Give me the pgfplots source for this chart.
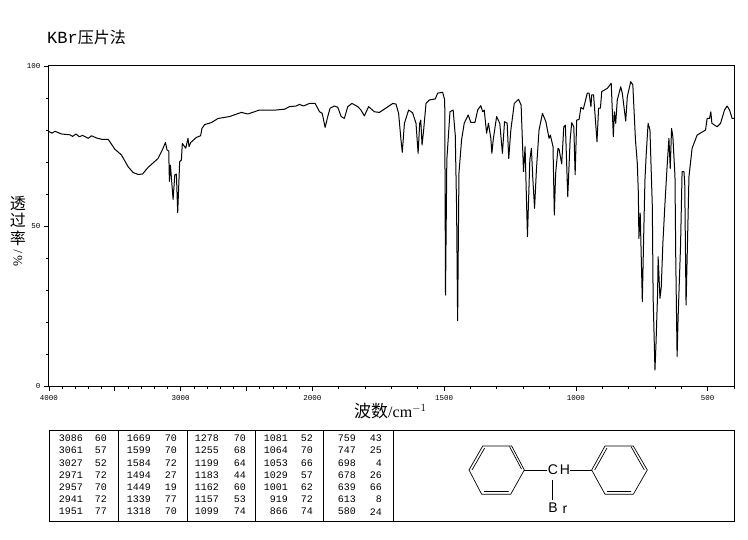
\documentclass[border=0pt]{standalone}
\usepackage{pgfplots}
\pgfplotsset{compat=1.18}
\usepackage{fontspec}
\setmainfont{Liberation Serif}
\setmonofont{Liberation Mono}
\setsansfont{Liberation Sans}
\newfontfamily\cjk{Noto Sans CJK SC}

% peak list: wavenumber right edge, value right edge, y, wavenumber, value
\newcommand{\pk}[5]{%
  \node[anchor=east,inner sep=0pt,font=\ttfamily\fontsize{10}{11}\selectfont] at (#1,#3) {#4};
  \node[anchor=east,inner sep=0pt,font=\ttfamily\fontsize{10}{11}\selectfont] at (#2,#3) {#5};}

\begin{document}
\begin{tikzpicture}
\useasboundingbox (-49pt,-153pt) rectangle (699pt,386pt);
\begin{axis}[
  at={(0pt,0pt)},
  anchor=south west,
  scale only axis,
  width=685pt,
  height=320pt,
  % the wavenumber scale is twice as wide below 2000
  x coord trafo/.code={\pgfmathparse{#1>2000 ? 4000-#1 : 2000+2*(2000-#1)}},
  xmin=4000, xmax=400,
  ymin=0, ymax=100,
  axis line style={line width=1pt},
  tick align=outside,
  tick pos=lower,
  tick style={black,line width=0.8pt},
  major tick length=5pt,
  minor tick length=3pt,
  xtick={4000,3500,3000,2500,2000,1500,1000,500},
  xticklabels={4000,,3000,,2000,1500,1000,500},
  minor xtick={3900,3800,3700,3600,3400,3300,3200,3100,2900,2800,2700,2600,2400,2300,2200,2100,1900,1800,1700,1600,1400,1300,1200,1100,900,800,700,600,400},
  ytick={0,50,100},
  yticklabels={0,50,100},
  minor ytick={10,20,30,40,60,70,80,90},
  ticklabel style={font=\ttfamily\fontsize{7.5}{8}\selectfont,inner sep=1pt},
  xticklabel style={yshift=-3pt},
  yticklabel style={xshift=-2.5pt},
]
\addplot[black,line width=1pt,line join=round] coordinates {
(4000,79.5)(3977,79.0)(3955,79.6)(3904,78.75)(3841,78.5)(3821,78.0)(3795,78.75)(3770,77.9)
(3745,78.3)(3702,77.4)(3677,78.2)(3639,77.5)(3601,77.1)(3551,77.1)(3500,74.0)(3450,72.2)
(3399,68.5)(3361,66.7)(3323,66.1)(3290,66.25)(3248,68.3)(3172,71.1)(3134,74.3)(3116,76.1)
(3104,73.75)(3091,73.4)(3086,63.9)(3078,69)(3058,58.3)(3045,66)(3033,66.25)(3023,54.2)
(3008,70.1)(2995,70.6)(2988,75.8)(2962,74.3)(2945,77.4)(2937,74.8)(2924,76.1)(2881,77.7)
(2849,78.2)(2839,80.5)(2818,81.7)(2768,82.3)(2717,83.6)(2629,84.2)(2540,85.5)(2490,85)
(2402,86.25)(2275,86.25)(2212,86.5)(2174,87.3)(2124,87.5)(2099,88)(2068,87.5)(2023,88.3)
(1990,88.3)(1973,85.7)(1963,85.2)(1952,80.8)(1942,84.2)(1933,86.8)(1917,87.5)(1904,87.1)
(1891,84.2)(1879,83.6)(1866,87.3)(1850,88.3)(1828,87.3)(1816,86.25)(1803,84.4)(1787,87.3)
(1765,85.7)(1746,85.5)(1695,88.3)(1683,88.1)(1673,85.2)(1664,76.9)(1659,73)(1651,82.1)
(1635,86.25)(1620,85.4)(1607,82.1)(1599,72.7)(1593,82.1)(1589,83.1)(1584,75.3)(1578,80)
(1569,88.3)(1556,89.4)(1534,89.7)(1525,91.5)(1506,91.8)(1498,89.4)(1495,28.4)(1490,70.6)
(1485,76.9)(1478,85.7)(1466,86.25)(1458,78.4)(1453,56)(1449,20.4)(1444,66.5)(1434,76.9)
(1424,82.1)(1409,84.7)(1399,82.4)(1383,82.4)(1373,86.25)(1361,87.6)(1354,85.7)(1348,86.25)
(1339,79)(1332,82.1)(1323,77.4)(1319,72.7)(1314,76.9)(1301,84.2)(1289,82.1)(1279,72.7)
(1271,82.6)(1261,82.1)(1255,71.1)(1247,80)(1234,88.3)(1218,89.6)(1208,87.8)(1199,67)
(1193,74.8)(1184,46.7)(1175,70.6)(1169,74.3)(1164,65.4)(1157,55.5)(1150,67.5)(1140,80)
(1127,85.2)(1114,82.6)(1102,77.4)(1097,78.4)(1087,74.8)(1082,53.4)(1077,66.5)(1068,74.3)
(1064,74)(1054,69.4)(1046,81)(1040,81.5)(1031,59.2)(1022,76.9)(1016,82.3)(1008,81)
(1003,66)(997,83.1)(988,83.3)(981,87.1)(972,86.5)(957,91.5)(950,91.5)(943,87.3)
(940,91)(933,91)(920,76.4)(914,86.8)(907,86.8)(902,92)(881,93)(866,94.6)
(858,77.9)(854,85.7)(849,82.1)(843,89.4)(830,93.5)(824,91.5)(811,82.8)(805,90.4)
(792,95.1)(784,94.1)(774,76.9)(767,69.6)(763,60.2)(761,46.1)(756,54)(748,26.4)
(743,46.1)(738,64.4)(733,72.7)(726,82.1)(719,80)(710,56)(707,27.9)(700,5)
(696,13.3)(690,29)(688,40.4)(681,27.4)(676,31)(670,44.6)(662,57.1)(654,68.5)
(647,77.4)(642,68)(637,80.5)(632,77.9)(624,65.4)(621,39.4)(616,9.2)(612,21.7)
(603,43.5)(597,67)(590,67)(587,63.3)(582,25.3)(578,39.4)(571,65.4)(559,74.3)
(540,78.4)(508,80)(502,83.6)(493,83.6)(488,85.7)(484,82.1)(464,81)(451,82.1)
(436,86.25)(426,87.5)(417,86.25)(407,83.6)(400,83.6)
};
\end{axis}

% everything else in image pixels, y going down
\begin{scope}[x=1pt,y=-1pt,shift={(-49,-386)}]
\node[anchor=west,inner sep=0pt] at (47,37) {\ttfamily\fontsize{17}{18}\selectfont KBr\cjk\fontsize{16}{17}\selectfont 压片法};
\node[anchor=west,inner sep=0pt] at (354,411) {\cjk\fontsize{17}{18}\selectfont 波数\rmfamily\fontsize{16}{17}\selectfont /cm$^{-1}$};
\foreach \c/\y in {透/203.5,过/220.5,率/238.5}
  \node[inner sep=0pt,font=\cjk\fontsize{16}{17}\selectfont] at (18,\y) {\c};
\node[inner sep=0pt,rotate=90,font=\rmfamily\fontsize{13}{14}\selectfont] at (18,251.5) {/};
\node[inner sep=0pt,rotate=90,font=\rmfamily\fontsize{13}{14}\selectfont] at (18,261.5) {\%};

% peak table
\draw[line width=0.9pt] (49,430) rectangle (734.5,521);
\foreach \x in {118,187,255,323,393} \draw[line width=0.9pt] (\x,430) -- (\x,521);
\pk{83}{107}{438.3}{3086}{60}
\pk{83}{107}{450}{3061}{57}
\pk{83}{107}{463.3}{3027}{52}
\pk{83}{107}{475}{2971}{72}
\pk{83}{107}{487.3}{2957}{70}
\pk{83}{107}{499}{2941}{72}
\pk{83}{107}{511.7}{1951}{77}
\pk{151}{177}{438.3}{1669}{70}
\pk{151}{177}{450}{1599}{70}
\pk{151}{177}{463.3}{1584}{72}
\pk{151}{177}{475}{1494}{27}
\pk{151}{177}{487.3}{1449}{19}
\pk{151}{177}{499}{1339}{77}
\pk{151}{177}{511.7}{1318}{70}
\pk{219}{246}{438.3}{1278}{70}
\pk{219}{246}{450}{1255}{68}
\pk{219}{246}{463.3}{1199}{64}
\pk{219}{246}{475}{1183}{44}
\pk{219}{246}{487.3}{1162}{60}
\pk{219}{246}{499}{1157}{53}
\pk{219}{246}{511.7}{1099}{74}
\pk{288}{313}{438.3}{1081}{52}
\pk{288}{313}{450}{1064}{70}
\pk{288}{313}{463.3}{1053}{66}
\pk{288}{313}{475}{1029}{57}
\pk{288}{313}{487.3}{1001}{62}
\pk{288}{313}{499}{919}{72}
\pk{288}{313}{511.7}{866}{74}
\pk{356}{382}{438.3}{759}{43}
\pk{356}{382}{450}{747}{25}
\pk{356}{382}{463.3}{698}{4}
\pk{356}{382}{475}{678}{26}
\pk{356}{382}{487.3}{639}{66}
\pk{356}{382}{499}{613}{8}
\pk{356}{382}{511.7}{580}{24}

% structure
\draw[line width=0.7pt] (469,470)--(482.7,446)--(511.7,446)--(524.3,470)--(510.7,494.3)--(481.7,494.3)--cycle;
\draw[line width=0.7pt] (472,470)--(484.7,448) (509.5,446.5)--(521.5,469) (484,491.5)--(508.5,491.5);
\draw[line width=0.7pt] (591.7,470)--(605,446)--(633.3,446)--(647.3,470)--(633.3,494.3)--(605,494.3)--cycle;
\draw[line width=0.7pt] (594.7,470)--(607,448) (631,446.5)--(644.3,470) (607,491.5)--(631,491.5);
\draw[line width=0.7pt] (524.3,470)--(546.7,470) (570,470)--(591.7,470) (552.3,480)--(552.3,500);
\node[inner sep=0pt,font=\sffamily\fontsize{14}{15}\selectfont] at (553,470) {C};
\node[inner sep=0pt,font=\sffamily\fontsize{14}{15}\selectfont] at (565,470) {H};
\node[inner sep=0pt,font=\sffamily\fontsize{14}{15}\selectfont] at (553,508) {B};
\node[inner sep=0pt,font=\sffamily\fontsize{14}{15}\selectfont] at (565,510) {r};
\end{scope}
\end{tikzpicture}
\end{document}
